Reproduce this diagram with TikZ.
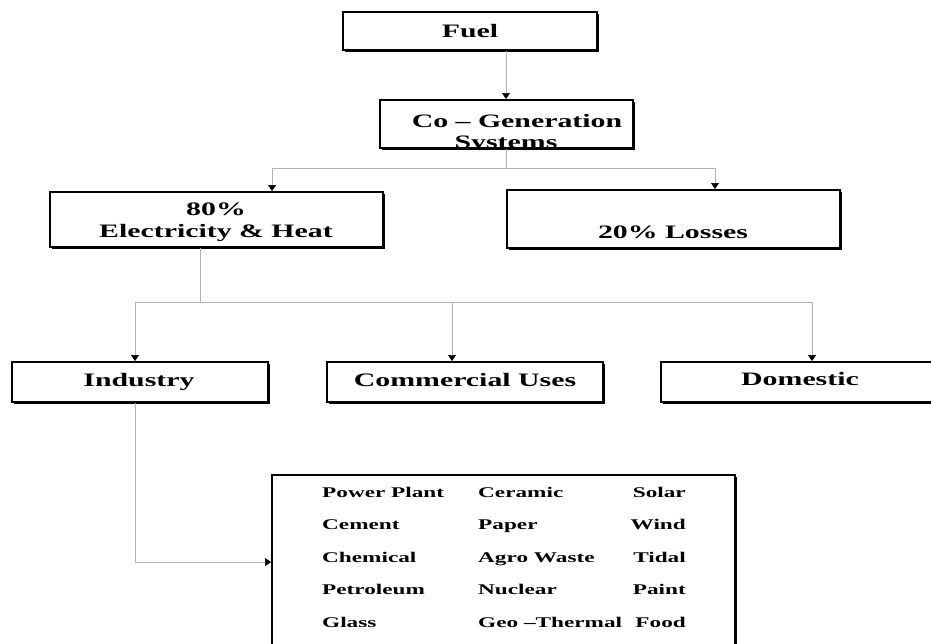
\documentclass[tikz,border=0pt]{standalone}
\usepackage{fontspec}
\setmainfont{Liberation Serif}[FakeStretch=1.57]
\usepackage{tikz}
\usetikzlibrary{arrows.meta, positioning, calc, shadows}

\tikzset{
  box/.style={draw, line width=2pt, fill=white, inner sep=0pt,
    drop shadow={shadow xshift=2pt, shadow yshift=-2pt, fill=black, opacity=1}},
  lbl/.style={font=\bfseries\fontsize{19}{20}\selectfont, inner sep=0pt, anchor=base},
  item/.style={font=\bfseries\fontsize{14.8}{17}\selectfont, inner sep=0pt},
  link/.style={draw=gray!60, line width=0.7pt},
  arr/.style={link, -{Triangle[color=black, length=6pt, width=8pt]}},
}

\begin{document}
\begin{tikzpicture}[x=1pt, y=-1pt]
  \clip (0,0) rectangle (931,643);
  \fill[white] (0,0) rectangle (931,643);

  % Boxes
  \node[box, minimum width=254pt, minimum height=38pt] (fuel) at (470,31) {};
  \node[box, minimum width=253pt, minimum height=48pt] (cogen) at (506,124) {};
  \node[box, minimum width=333pt, minimum height=55pt] (elec) at (216,219.5) {};
  \node[box, minimum width=333pt, minimum height=58pt] (loss) at (673,219) {};
  \node[box, minimum width=256pt, minimum height=40pt] (ind) at (140,382) {};
  \node[box, minimum width=276pt, minimum height=40pt] (comm) at (465,382) {};
  \node[box, minimum width=278pt, minimum height=40pt] (dom) at (800,382) {};
  \node[box, minimum width=463pt, minimum height=205pt] (uses) at (503.5,577.5) {};

  % Box texts
  \node[lbl] (fuel-t) at (470,37) {Fuel};
  \node[lbl] (cogen-t1) at (517,127) {Co -- Generation};
  \begin{scope}
    \clip ([xshift=1pt, yshift=1pt]cogen.south west) rectangle (cogen.north east);
    \node[lbl] (cogen-t2) at (506,148) {Systems};
  \end{scope}
  \node[lbl] (elec-t1) at (216,215) {80\%};
  \node[lbl] (elec-t2) at (216,237) {Electricity \& Heat};
  \node[lbl] (loss-t) at (673,238) {20\% Losses};
  \node[lbl] (ind-t) at (139,386) {Industry};
  \node[lbl] (comm-t) at (465,386) {Commercial Uses};
  \node[lbl] (dom-t) at (800,385) {Domestic};

  % List of industries
  \foreach \a/\b/\c [count=\i from 0] in {Power Plant/Ceramic/Solar,
      Cement/Paper/Wind, Chemical/Agro Waste/Tidal,
      Petroleum/Nuclear/Paint, Glass/Geo --Thermal/Food} {
    \node[item, anchor=base west] (it-\i-a) at (322,{497+32.6*\i}) {\a};
    \node[item, anchor=base west] (it-\i-b) at (478,{497+32.6*\i}) {\b};
    \node[item, anchor=base east] (it-\i-c) at (686,{497+32.6*\i}) {\c};
  }

  % Connectors
  \draw[arr] (cogen.north |- fuel.south) -- (cogen.north);
  \coordinate (busA) at (272,168);
  \coordinate (busB) at (715,168);
  \draw[link] (cogen.south) -- (cogen.south |- busA);
  \draw[link] (busA) -- (busB);
  \draw[arr] (busA) -- (busA |- elec.north);
  \draw[arr] (busB) -- (busB |- loss.north);

  \coordinate (elec-out) at (200,0 |- elec.south);
  \coordinate (busC) at (135,302);
  \coordinate (busD) at (452,302);
  \coordinate (busE) at (812,302);
  \draw[link] (elec-out) -- (elec-out |- busC);
  \draw[link] (busC) -- (busE);
  \draw[arr] (busC) -- (busC |- ind.north);
  \draw[arr] (busD) -- (busD |- comm.north);
  \draw[arr] (busE) -- (busE |- dom.north);

  \coordinate (ind-out) at (135,0 |- ind.south);
  \coordinate (ind-turn) at (135,562);
  \draw[arr] (ind-out) -- (ind-turn) -- (ind-turn -| uses.west);
\end{tikzpicture}
\end{document}
